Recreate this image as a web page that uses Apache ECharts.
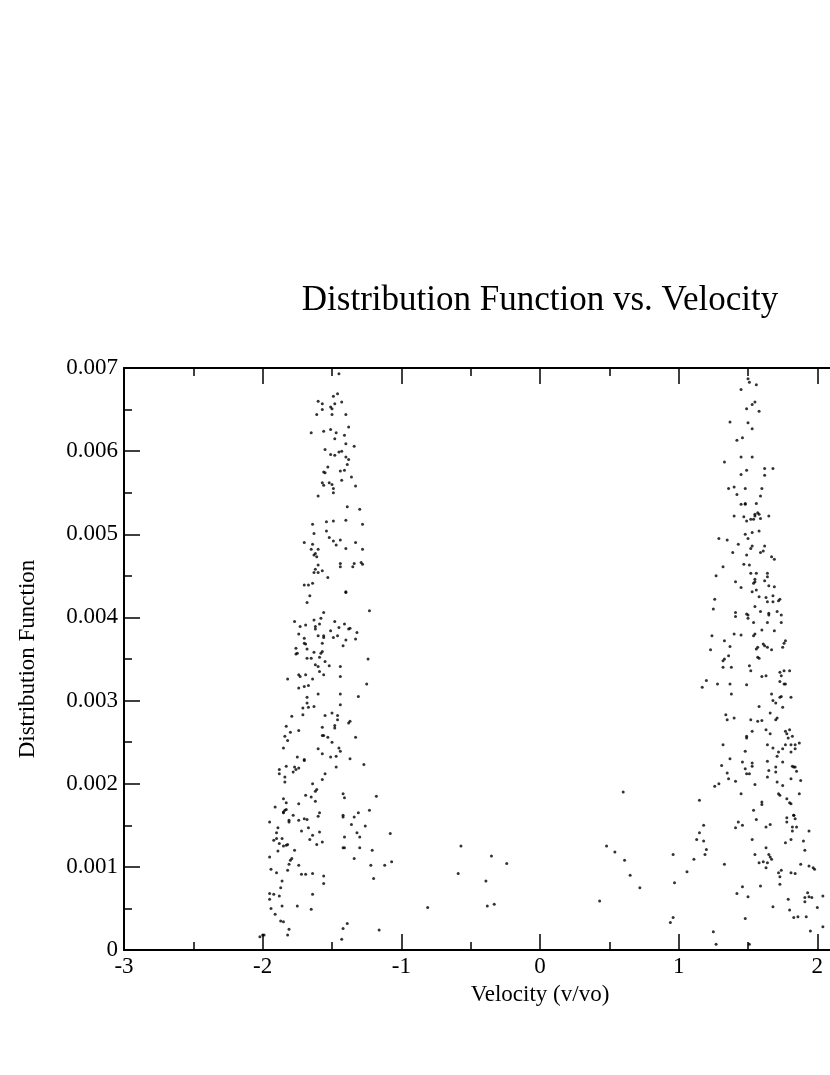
<!DOCTYPE html>
<html>
<head>
<meta charset="utf-8">
<script src="https://cdn.jsdelivr.net/npm/echarts@6/dist/echarts.min.js"></script>
<style>html,body{margin:0;padding:0;background:#fff;}#chart{width:830px;height:1075px;}</style>
</head>
<body>
<div id="chart"></div>
<script>
// Velocity (v/vo) of each sample point
const velocity = [
-1.45,-1.46,-1.49,-1.60,-1.57,-1.48,-1.43,-1.51,-1.50,-1.57,
-1.61,-1.50,-1.40,-1.38,-1.65,-1.56,-1.51,-1.47,-1.41,-1.48,
-1.40,-1.34,-1.55,-1.51,-1.48,-1.45,-1.43,-1.40,-1.38,-1.39,
-1.53,-1.56,-1.55,-1.44,-1.41,-1.36,-1.43,-1.57,-1.56,-1.52,
-1.50,-1.49,-1.49,-1.33,-1.60,-1.39,-1.30,-1.64,-1.54,-1.49,
-1.40,-1.28,-1.63,-1.54,-1.52,-1.49,-1.44,-1.47,-1.70,-1.64,
-1.33,-1.65,-1.60,-1.62,-1.63,-1.61,-1.40,-1.28,-1.60,-1.44,
-1.44,-1.34,-1.35,-1.29,-1.28,-1.62,-1.63,-1.60,-1.57,-1.53,
-1.70,-1.67,-1.64,-1.40,-1.40,-1.66,-1.68,-1.23,-1.56,-1.77,
-1.73,-1.69,-1.63,-1.59,-1.58,-1.62,-1.62,-1.48,-1.45,-1.41,
-1.38,-1.37,-1.32,-1.51,-1.74,-1.70,-1.70,-1.69,-1.60,-1.56,
-1.56,-1.49,-1.46,-1.40,-1.33,-1.57,-1.42,-1.76,-1.68,
-1.76,-1.75,-1.68,-1.65,-1.63,-1.59,-1.58,-1.57,-1.24,-1.55,
-1.62,-1.60,-1.52,-1.44,-1.59,-1.56,-1.44,-1.74,-1.73,-1.69,
-1.64,-1.82,-1.70,-1.67,-1.74,-1.60,-1.44,-1.25,-1.31,-1.68,
-1.68,-1.67,-1.63,-1.71,-1.44,-1.71,-1.79,-1.55,-1.50,-1.46,
-1.46,-1.48,-1.48,-1.38,-1.37,-1.83,-1.80,-1.74,-1.57,-1.84,
-1.82,-1.57,-1.56,-1.53,-1.33,-1.50,-1.85,-1.60,-1.45,-1.44,
-1.57,-1.51,-1.47,-1.37,-1.27,-1.75,-1.70,-1.70,-1.83,-1.77,
-1.76,-1.74,-1.78,-1.88,-1.88,-1.47,-1.84,-1.84,-1.55,-1.57,
-1.64,-1.61,-1.62,-1.69,-1.65,-1.62,-1.85,-1.83,-1.91,-1.74,
-1.42,-1.41,-1.18,-1.85,-1.84,-1.83,-1.85,-1.59,-1.60,-1.42,
-1.42,-1.31,-1.34,-1.23,-1.95,-1.81,-1.81,-1.78,-1.74,-1.70,
-1.68,-1.36,-1.26,-1.89,-1.90,-1.67,-1.72,-1.59,-1.64,-1.66,
-1.32,-1.30,-1.08,-1.92,-1.90,-1.86,-1.88,-1.85,-1.83,-1.82,
-1.57,-1.61,-1.41,-1.89,-1.77,-1.42,-1.41,-1.30,-1.21,-1.95,
-1.79,-1.80,-1.81,-1.74,-1.34,-1.22,-1.12,-1.07,-1.94,-1.82,
-1.90,-1.72,-1.69,-1.64,-1.56,-1.20,-1.86,-1.87,-1.56,-1.95,
-1.92,-1.88,-1.64,-1.95,-1.86,-1.75,-1.94,-1.65,-1.91,-0.81,
-1.87,-1.85,-1.39,-1.42,-1.16,-1.81,-1.82,-1.43,-2.02,-2.00,-1.99,
-0.57,-0.59,-0.35,-0.39,-0.24,-0.38,-0.33,0.48,0.54,0.61,0.65,0.72,0.43,0.60,
1.50,1.51,1.56,1.45,1.55,1.53,1.49,1.58,1.37,1.50,
1.53,1.46,1.42,1.45,1.53,1.33,1.49,1.45,1.62,1.68,
1.62,1.36,1.40,1.42,1.48,1.60,1.59,1.45,1.48,1.48,
1.56,1.40,1.47,1.49,1.52,1.54,1.55,1.57,1.58,1.59,
1.65,1.55,1.48,1.53,1.58,1.50,1.29,1.35,1.43,1.52,
1.53,1.62,1.59,1.61,1.39,1.49,1.67,1.69,1.32,1.47,
1.51,1.27,1.52,1.56,1.64,1.64,1.55,1.55,1.54,1.41,
1.62,1.45,1.65,1.69,1.26,1.53,1.56,1.58,1.63,1.68,
1.73,1.72,1.68,1.64,1.25,1.41,1.41,1.49,1.50,1.50,
1.55,1.59,1.65,1.65,1.71,1.74,1.54,1.64,1.74,1.24,
1.40,1.45,1.54,1.55,1.60,1.69,1.33,1.77,1.76,1.23,
1.37,1.56,1.57,1.61,1.62,1.64,1.67,1.75,
1.32,1.33,1.36,1.32,1.38,1.51,1.52,1.57,1.58,1.60,
1.63,1.73,1.74,1.76,1.80,1.20,1.17,1.28,1.37,1.38,
1.49,1.73,1.76,1.77,1.67,1.73,1.74,1.81,1.68,1.70,
1.75,1.58,1.66,1.34,1.35,1.40,1.52,1.57,1.60,1.70,
1.71,1.53,1.49,1.49,1.63,1.66,1.77,1.78,1.80,1.79,
1.82,1.32,1.48,1.64,1.68,1.72,1.71,1.75,1.77,1.81,
1.84,1.81,1.84,1.87,1.37,1.31,1.46,1.53,1.53,1.48,
1.49,1.51,1.64,1.65,1.70,1.70,1.75,1.82,1.83,1.84,
1.85,1.35,1.36,1.41,1.26,1.29,1.55,1.64,1.71,1.75,
1.81,1.88,1.45,1.72,1.73,1.78,1.81,1.80,1.87,1.15,
1.60,1.60,1.54,1.56,1.78,1.78,1.83,1.83,1.84,1.82,
1.82,1.85,1.94,1.18,1.15,1.43,1.41,1.46,1.63,1.66,
1.13,1.18,1.20,1.19,1.53,1.77,1.81,1.90,1.11,0.96,
1.06,1.33,1.55,1.63,1.65,1.66,1.67,1.61,1.58,1.64,
1.63,1.91,1.94,1.97,1.98,1.88,1.72,1.74,1.73,1.81,
1.84,1.73,0.97,1.46,1.59,1.42,1.50,1.93,1.91,1.94,
1.96,2.04,1.91,1.79,1.68,1.80,2.00,0.96,0.94,1.48,
1.83,1.86,1.92,2.04,1.95,1.25,1.27,1.51
];

// Distribution function value of each sample point
const distribution = [
0.00693,0.00669,0.00666,0.00660,0.00657,0.00657,0.00659,0.00653,0.00651,0.00650,
0.00644,0.00644,0.00644,0.00629,0.00622,0.00624,0.00626,0.00622,0.00619,0.00615,
0.00609,0.00606,0.00602,0.00596,0.00595,0.00599,0.00600,0.00593,0.00590,0.00584,
0.00581,0.00575,0.00574,0.00576,0.00577,0.00569,0.00565,0.00562,0.00559,0.00562,
0.00560,0.00555,0.00550,0.00558,0.00546,0.00533,0.00530,0.00512,0.00515,0.00516,
0.00517,0.00512,0.00501,0.00504,0.00496,0.00492,0.00493,0.00487,0.00490,0.00488,
0.00490,0.00482,0.00482,0.00477,0.00475,0.00473,0.00483,0.00482,0.00463,0.00465,
0.00461,0.00465,0.00461,0.00466,0.00464,0.00458,0.00454,0.00454,0.00456,0.00448,
0.00439,0.00439,0.00441,0.00431,0.00430,0.00426,0.00418,0.00408,0.00406,0.00395,
0.00389,0.00391,0.00397,0.00392,0.00399,0.00389,0.00386,0.00395,0.00388,0.00392,
0.00386,0.00387,0.00382,0.00384,0.00380,0.00375,0.00369,0.00368,0.00378,0.00378,
0.00376,0.00376,0.00378,0.00373,0.00374,0.00369,0.00366,0.00363,0.00362,
0.00356,0.00357,0.00351,0.00351,0.00358,0.00352,0.00357,0.00359,0.00350,0.00347,
0.00343,0.00341,0.00342,0.00341,0.00335,0.00331,0.00329,0.00331,0.00329,0.00331,
0.00326,0.00326,0.00317,0.00318,0.00315,0.00308,0.00308,0.00320,0.00305,0.00304,
0.00297,0.00292,0.00293,0.00291,0.00295,0.00283,0.00281,0.00282,0.00285,0.00282,
0.00277,0.00270,0.00267,0.00273,0.00275,0.00269,0.00262,0.00264,0.00268,0.00257,
0.00252,0.00258,0.00258,0.00256,0.00256,0.00250,0.00243,0.00242,0.00243,0.00239,
0.00236,0.00232,0.00233,0.00230,0.00223,0.00232,0.00229,0.00228,0.00221,0.00220,
0.00217,0.00219,0.00214,0.00217,0.00212,0.00220,0.00208,0.00202,0.00212,0.00205,
0.00200,0.00193,0.00191,0.00186,0.00184,0.00179,0.00182,0.00177,0.00172,0.00176,
0.00188,0.00183,0.00185,0.00166,0.00168,0.00169,0.00165,0.00165,0.00161,0.00162,
0.00160,0.00165,0.00160,0.00168,0.00154,0.00156,0.00154,0.00162,0.00156,0.00158,
0.00157,0.00151,0.00149,0.00147,0.00141,0.00147,0.00143,0.00142,0.00138,0.00133,
0.00141,0.00136,0.00140,0.00132,0.00134,0.00134,0.00128,0.00125,0.00126,0.00127,
0.00130,0.00127,0.00136,0.00119,0.00120,0.00123,0.00123,0.00123,0.00120,0.00112,
0.00110,0.00108,0.00103,0.00102,0.00110,0.00102,0.00102,0.00106,0.00097,0.00096,
0.00093,0.00091,0.00091,0.00092,0.00089,0.00086,0.00083,0.00075,0.00080,0.00068,
0.00067,0.00065,0.00067,0.00061,0.00053,0.00053,0.00050,0.00049,0.00043,0.00051,
0.00035,0.00034,0.00032,0.00026,0.00024,0.00025,0.00018,0.00013,0.00016,0.00018,0.00018,
0.00125,0.00092,0.00113,0.00083,0.00104,0.00053,0.00055,0.00125,0.00118,0.00108,0.00090,0.00075,0.00059,0.00190,
0.00687,0.00683,0.00680,0.00674,0.00659,0.00656,0.00651,0.00648,0.00635,0.00634,
0.00627,0.00616,0.00613,0.00593,0.00593,0.00587,0.00577,0.00572,0.00579,0.00579,
0.00571,0.00555,0.00557,0.00548,0.00555,0.00555,0.00546,0.00536,0.00537,0.00536,
0.00537,0.00522,0.00521,0.00516,0.00518,0.00518,0.00524,0.00526,0.00524,0.00519,
0.00522,0.00522,0.00500,0.00502,0.00504,0.00495,0.00495,0.00493,0.00488,0.00483,
0.00486,0.00486,0.00478,0.00480,0.00478,0.00475,0.00473,0.00470,0.00461,0.00464,
0.00463,0.00450,0.00453,0.00453,0.00453,0.00449,0.00446,0.00443,0.00441,0.00443,
0.00444,0.00436,0.00438,0.00437,0.00422,0.00431,0.00433,0.00425,0.00424,0.00426,
0.00422,0.00420,0.00419,0.00419,0.00410,0.00406,0.00401,0.00404,0.00403,0.00399,
0.00413,0.00407,0.00405,0.00403,0.00407,0.00403,0.00394,0.00394,0.00394,0.00378,
0.00380,0.00379,0.00378,0.00380,0.00385,0.00384,0.00372,0.00372,0.00369,0.00361,
0.00365,0.00362,0.00364,0.00368,0.00366,0.00364,0.00361,0.00364,
0.00348,0.00350,0.00354,0.00340,0.00340,0.00342,0.00336,0.00352,0.00351,0.00329,
0.00330,0.00334,0.00330,0.00336,0.00336,0.00324,0.00316,0.00320,0.00320,0.00308,
0.00319,0.00323,0.00320,0.00320,0.00308,0.00304,0.00305,0.00304,0.00300,0.00297,
0.00292,0.00293,0.00285,0.00283,0.00277,0.00279,0.00277,0.00275,0.00276,0.00277,
0.00279,0.00263,0.00257,0.00255,0.00265,0.00260,0.00263,0.00260,0.00265,0.00255,
0.00257,0.00247,0.00239,0.00247,0.00243,0.00238,0.00233,0.00242,0.00247,0.00247,
0.00247,0.00238,0.00242,0.00249,0.00230,0.00222,0.00226,0.00225,0.00221,0.00218,
0.00212,0.00212,0.00227,0.00216,0.00220,0.00214,0.00226,0.00221,0.00220,0.00220,
0.00215,0.00213,0.00206,0.00203,0.00197,0.00200,0.00199,0.00208,0.00202,0.00198,
0.00206,0.00204,0.00188,0.00188,0.00186,0.00182,0.00176,0.00177,0.00188,0.00180,
0.00178,0.00175,0.00168,0.00157,0.00159,0.00154,0.00162,0.00162,0.00158,0.00148,
0.00143,0.00148,0.00143,0.00150,0.00141,0.00154,0.00147,0.00150,0.00148,0.00151,
0.00133,0.00131,0.00121,0.00115,0.00133,0.00129,0.00133,0.00131,0.00109,0.00115,
0.00094,0.00103,0.00115,0.00123,0.00115,0.00112,0.00109,0.00106,0.00105,0.00105,
0.00099,0.00120,0.00101,0.00099,0.00097,0.00103,0.00093,0.00096,0.00088,0.00093,
0.00092,0.00079,0.00081,0.00076,0.00077,0.00068,0.00064,0.00069,0.00063,0.00064,
0.00063,0.00065,0.00058,0.00061,0.00052,0.00048,0.00051,0.00039,0.00033,0.00038,
0.00039,0.00040,0.00040,0.00028,0.00023,0.00022,0.00007,0.00007
];

const xTickLabels = ['-3','-2','-1','0','1','2','3'];
const yTickLabels = ['0','0.001','0.002','0.003','0.004','0.005','0.006','0.007'];

const points = velocity.map((v, i) => [v, distribution[i]]);

const FONT = 'Liberation Serif';
const tickStyle = { color: '#000', width: 1.5 };

function makeX(position, showLabels, extra) {
  return Object.assign({
    type: 'value', position: position, min: -3, max: 3, interval: 1,
    axisLine: { show: true, onZero: false, lineStyle: { color: '#000', width: 2 } },
    axisTick: { show: true, inside: true, length: 16, lineStyle: tickStyle },
    minorTick: { show: true, splitNumber: 2, length: 8, lineStyle: tickStyle },
    splitLine: { show: false },
    axisLabel: {
      show: showLabels, margin: 5, color: '#000', fontFamily: FONT, fontSize: 23,
      formatter: v => xTickLabels[Math.round(v + 3)]
    }
  }, extra || {});
}
function makeY(position, showLabels, extra) {
  return Object.assign({
    type: 'value', position: position, min: 0, max: 0.007, interval: 0.001,
    axisLine: { show: true, onZero: false, lineStyle: { color: '#000', width: 2 } },
    axisTick: { show: true, inside: true, length: 16, lineStyle: tickStyle },
    minorTick: { show: true, splitNumber: 2, length: 8, lineStyle: tickStyle },
    splitLine: { show: false },
    axisLabel: {
      show: showLabels, margin: 6, color: '#000', fontFamily: FONT, fontSize: 23,
      formatter: v => yTickLabels[Math.round(v * 1000)]
    }
  }, extra || {});
}

const chart = echarts.init(document.getElementById('chart'), null, { renderer: 'canvas' });
chart.setOption({
  animation: false,
  backgroundColor: '#fff',
  textStyle: { fontFamily: FONT },
  graphic: [{
    type: 'text', x: 540, y: 301,
    style: {
      text: 'Distribution Function vs. Velocity', fill: '#000',
      fontFamily: FONT, fontSize: 35, align: 'center', verticalAlign: 'middle'
    }
  }],
  grid: { left: 124, top: 368, width: 832, height: 582, containLabel: false, outerBoundsMode: 'none' },
  xAxis: [
    makeX('bottom', true, {
      name: 'Velocity (v/vo)', nameLocation: 'middle', nameGap: 33,
      nameTextStyle: { color: '#000', fontFamily: FONT, fontSize: 23 }
    }),
    makeX('top', false)
  ],
  yAxis: [
    makeY('left', true, {
      name: 'Distribution Function', nameLocation: 'middle', nameGap: 85, nameRotate: 90,
      nameTextStyle: { color: '#000', fontFamily: FONT, fontSize: 23 }
    }),
    makeY('right', false)
  ],
  series: [{
    type: 'scatter', xAxisIndex: 0, yAxisIndex: 0,
    data: points, symbol: 'circle', symbolSize: 3,
    itemStyle: { color: '#000' }, silent: true
  }]
});
</script>
</body>
</html>
